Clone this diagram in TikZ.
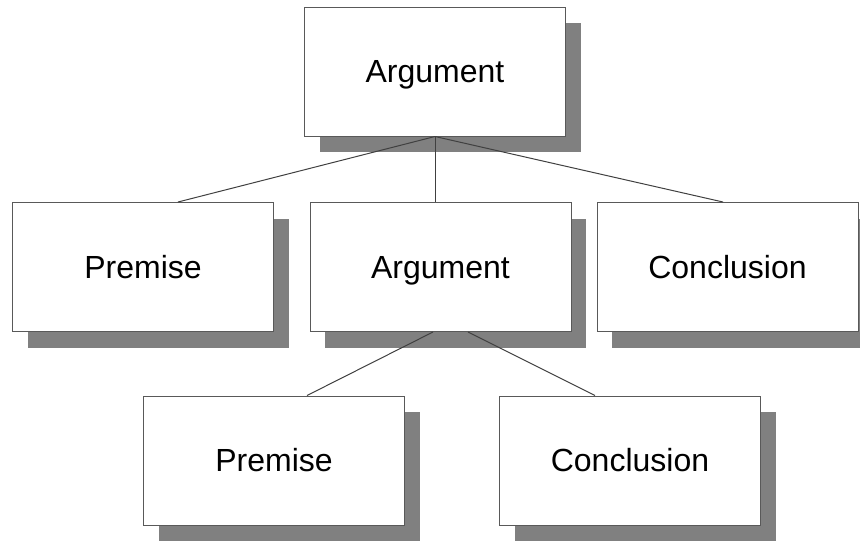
\documentclass[tikz,border=0pt]{standalone}
\usepackage{fontspec}
\setmainfont{Liberation Sans}
\usetikzlibrary{shadows,calc}
\begin{document}
\begin{tikzpicture}[x=1pt,y=-1pt,
  box/.style={draw=black!65, line width=1pt, fill=white,
    minimum width=261pt, minimum height=129pt, inner sep=0pt,
    text height=22.5pt, text depth=0pt,
    font=\fontsize{32}{38}\selectfont,
    drop shadow={shadow xshift=15pt, shadow yshift=-16pt, fill=black!50, opacity=1}},
  link/.style={draw=black!75, line width=1pt}]
\useasboundingbox (0,0) rectangle (860,542);
% tree of boxes
\node[box] (top) at (435,71.5) {Argument};
\node[box] (p1) at (143,267) {Premise};
\node[box] (a2) at (440.5,267) {Argument};
\node[box] (c1) at (727.5,267) {Conclusion};
\node[box] (p2) at (274,460.5) {Premise};
\node[box] (c2) at (630,460.5) {Conclusion};
% connectors
\draw[link] (top.south) -- ($(p1.north)+(35,0)$);
\draw[link] (top.south) -- (a2.north -| top.south);
\draw[link] (top.south) -- ($(c1.north)+(-4.5,0)$);
\draw[link] ($(a2.south)+(-7.5,0)$) -- ($(p2.north)+(33,0)$);
\draw[link] ($(a2.south)+(27.5,0)$) -- ($(c2.north)+(-35,0)$);
\end{tikzpicture}
\end{document}
